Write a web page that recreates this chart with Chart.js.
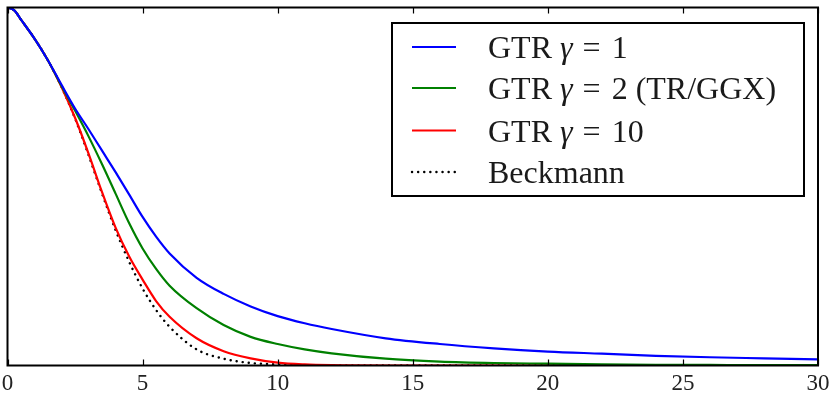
<!DOCTYPE html>
<html>
<head>
<meta charset="utf-8">
<script src="https://cdn.jsdelivr.net/npm/chart.js@4.4.1/dist/chart.umd.min.js"></script>
<style>
  html, body { margin: 0; padding: 0; background: #fff; }
  #wrap { width: 836px; height: 394px; }
</style>
</head>
<body>
<div id="wrap"><canvas id="myChart" width="836" height="394"></canvas></div>
<script>
"use strict";

// values (x in degrees, y normalised to 1 at x = 0)
const xs = [0, 0.25, 0.5, 1, 1.5, 2, 2.5, 3, 3.5, 4, 4.5, 5, 5.5, 6, 7, 8, 9, 10, 11, 12, 14, 16, 18, 20, 22, 24, 26, 28, 30];
const gtr1 = [1, 0.992, 0.966, 0.913, 0.852, 0.784, 0.718, 0.66, 0.6, 0.54, 0.478, 0.415, 0.36, 0.313, 0.245, 0.2, 0.165, 0.138, 0.118, 0.102, 0.076, 0.06, 0.048, 0.039, 0.033, 0.027, 0.023, 0.02, 0.017];
const gtr2 = [1, 0.992, 0.966, 0.913, 0.852, 0.781, 0.712, 0.64, 0.562, 0.48, 0.398, 0.327, 0.27, 0.223, 0.16, 0.113, 0.08, 0.06, 0.045, 0.034, 0.019, 0.011, 0.007, 0.005, 0.003, 0.002, 0.0015, 0.001, 0.001];
const gtr10 = [1, 0.992, 0.966, 0.913, 0.852, 0.778, 0.692, 0.592, 0.484, 0.385, 0.305, 0.24, 0.18, 0.136, 0.076, 0.04, 0.02, 0.008, 0.003, 0.001, 0, 0, 0, 0, 0, 0, 0, 0, 0];
const beckmann = [1, 0.992, 0.966, 0.913, 0.852, 0.778, 0.69, 0.588, 0.48, 0.378, 0.29, 0.215, 0.155, 0.108, 0.045, 0.019, 0.007, 0.003, 0.001, 0, 0, 0, 0, 0, 0, 0, 0, 0, 0];
const xTicks = [0, 5, 10, 15, 20, 25, 30];
const labels = ["GTR γ = 1", "GTR γ = 2 (TR/GGX)", "GTR γ = 10", "Beckmann"];

function pts(arr) {
  return xs.map((x, i) => ({ x: x, y: arr[i] }));
}

// frame, inward ticks and the legend box
const framePlugin = {
  id: "frame",
  afterDraw(chart) {
    const ctx = chart.ctx;
    const a = chart.chartArea;
    const xScale = chart.scales.x;
    ctx.save();
    ctx.strokeStyle = "#000";
    ctx.lineWidth = 1.2;
    xScale.ticks.forEach((t) => {
      const px = Math.round(xScale.getPixelForValue(t.value)) + 0.5;
      ctx.beginPath();
      ctx.moveTo(px, a.bottom);
      ctx.lineTo(px, a.bottom - 6);
      ctx.moveTo(px, a.top);
      ctx.lineTo(px, a.top + 6);
      ctx.stroke();
    });
    ctx.lineWidth = 2;
    ctx.strokeRect(a.left, a.top, a.right - a.left, a.bottom - a.top);

    // legend
    const box = { x: 392, y: 23, w: 412, h: 173 };
    ctx.fillStyle = "#fff";
    ctx.fillRect(box.x, box.y, box.w, box.h);
    ctx.lineWidth = 2;
    ctx.strokeStyle = "#000";
    ctx.strokeRect(box.x, box.y, box.w, box.h);

    const base = [58, 99, 141.5, 183];
    const font = "32px 'Liberation Serif'";
    chart.data.datasets.forEach((ds, i) => {
      const y = base[i] - 11;
      ctx.beginPath();
      ctx.strokeStyle = ds.borderColor;
      ctx.lineWidth = ds.borderWidth;
      ctx.lineCap = ds.borderCapStyle || "butt";
      ctx.setLineDash(ds.borderDash || []);
      ctx.moveTo(412, y);
      ctx.lineTo(456, y);
      ctx.stroke();
      ctx.setLineDash([]);
      ctx.lineCap = "butt";

      ctx.fillStyle = "#1a1a1a";
      ctx.textBaseline = "alphabetic";
      // split into plain text, italic gamma and a spaced "="
      const tokens = ds.label.split(/(γ| = )/).filter((s) => s.length);
      let x = 488;
      tokens.forEach((tk) => {
        if (tk === "γ") {
          ctx.font = "italic " + font;
          ctx.fillText(tk, x, base[i]);
          x += ctx.measureText(tk).width;
        } else if (tk === " = ") {
          ctx.font = font;
          x += 10;
          ctx.fillText("=", x, base[i]);
          x += ctx.measureText("=").width + 11;
        } else {
          ctx.font = font;
          ctx.fillText(tk, x, base[i]);
          x += ctx.measureText(tk).width;
        }
      });
    });
    ctx.restore();
  },
};

const ctx = document.getElementById("myChart");

new Chart(ctx, {
  type: "line",
  data: {
    datasets: [
      {
        label: labels[0],
        data: pts(gtr1),
        borderColor: "#0000ff",
        borderWidth: 2.2,
      },
      {
        label: labels[1],
        data: pts(gtr2),
        borderColor: "#008000",
        borderWidth: 2.2,
      },
      {
        label: labels[2],
        data: pts(gtr10),
        borderColor: "#ff0000",
        borderWidth: 2.2,
      },
      {
        label: labels[3],
        data: pts(beckmann),
        borderColor: "#000000",
        borderWidth: 2.4,
        borderDash: [0.1, 6],
        borderCapStyle: "round",
      },
    ],
  },
  options: {
    responsive: false,
    animation: false,
    devicePixelRatio: 1,
    layout: { padding: { left: 7.5, right: 18, top: 7.5, bottom: 0 } },
    elements: {
      point: { radius: 0 },
      line: { cubicInterpolationMode: "monotone", fill: false },
    },
    plugins: {
      legend: { display: false },
      tooltip: { enabled: false },
    },
    scales: {
      x: {
        type: "linear",
        min: 0,
        max: 30,
        afterBuildTicks: (scale) => {
          scale.ticks = xTicks.map((v) => ({ value: v }));
        },
        afterFit: (scale) => {
          scale.height = 28.5;
        },
        grid: { display: false },
        border: { display: false },
        ticks: {
          color: "#222",
          padding: -3,
          maxRotation: 0,
          font: { family: "'Liberation Serif'", size: 23 },
        },
      },
      y: {
        display: false,
        min: 0,
        max: 1,
      },
    },
  },
  plugins: [framePlugin],
});
</script>
</body>
</html>
